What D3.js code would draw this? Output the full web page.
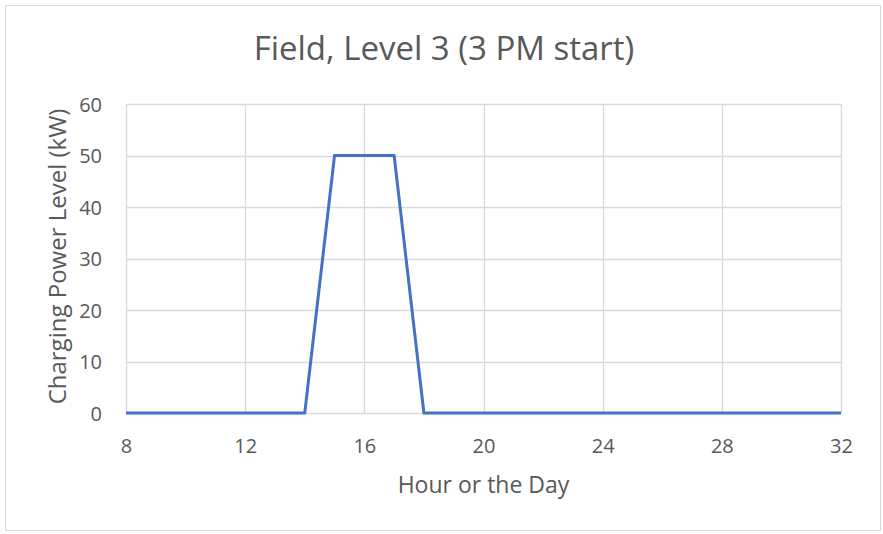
<!DOCTYPE html>
<html>
<head>
<meta charset="utf-8">
<script src="https://cdn.jsdelivr.net/npm/d3@7"></script>
<style>
  html, body { margin: 0; padding: 0; background: #fff; }
  svg text { font-family: "Open Sans", sans-serif; fill: #595959; }
</style>
</head>
<body>
<svg id="chart" width="883" height="534"></svg>
<script>
// Hourly charging power for a Level 3 session starting at 3 PM
const hours = [8, 9, 10, 11, 12, 13, 14, 15, 16, 17, 18, 19, 20, 21, 22, 23, 24, 25, 26, 27, 28, 29, 30, 31, 32];
const powerKW = [0, 0, 0, 0, 0, 0, 0, 50, 50, 50, 0, 0, 0, 0, 0, 0, 0, 0, 0, 0, 0, 0, 0, 0, 0];
const xTicks = [8, 12, 16, 20, 24, 28, 32];
const yTicks = [0, 10, 20, 30, 40, 50, 60];
const titleText = "Field, Level 3 (3 PM start)";
const xTitle = "Hour or the Day";
const yTitle = "Charging Power Level (kW)";

const svg = d3.select("#chart");
const plot = { left: 126, right: 841, top: 104, bottom: 413 };

// Outer chart frame
svg.append("rect")
  .attr("x", 5.5).attr("y", 5.5)
  .attr("width", 875).attr("height", 525)
  .attr("fill", "#fff").attr("stroke", "#d9d9d9").attr("stroke-width", 1);

const x = d3.scaleLinear().domain([8, 32]).range([plot.left, plot.right]);
const y = d3.scaleLinear().domain([0, 60]).range([plot.bottom, plot.top]);

// Gridlines
const grid = svg.append("g").attr("stroke", "#d9d9d9").attr("stroke-width", 1.3);
grid.selectAll(".gx").data(xTicks).enter().append("line")
  .attr("x1", d => Math.round(x(d)) + 0.5).attr("x2", d => Math.round(x(d)) + 0.5)
  .attr("y1", plot.top).attr("y2", plot.bottom);
grid.selectAll(".gy").data(yTicks).enter().append("line")
  .attr("x1", plot.left).attr("x2", plot.right)
  .attr("y1", d => Math.round(y(d)) + 0.5).attr("y2", d => Math.round(y(d)) + 0.5);

// Axes (labels only, no domain lines)
const xAxis = svg.append("g")
  .attr("transform", `translate(0,${plot.bottom})`)
  .call(d3.axisBottom(x).tickValues(xTicks).tickSize(0).tickPadding(0));
const yAxis = svg.append("g")
  .attr("transform", `translate(${plot.left},0)`)
  .call(d3.axisLeft(y).tickValues(yTicks).tickSize(0).tickPadding(24));
[xAxis, yAxis].forEach(a => {
  a.select(".domain").remove();
  a.selectAll("text").style("font-size", "20px").attr("fill", "#595959");
});
xAxis.selectAll("text").attr("dy", null).attr("y", 40);
yAxis.selectAll("text").attr("dy", "0.36em");

// Series line
const line = d3.line().x((d, i) => x(hours[i])).y(d => y(d));
svg.append("path")
  .datum(powerKW)
  .attr("d", line)
  .attr("fill", "none")
  .attr("stroke", "#4472c4")
  .attr("stroke-width", 3)
  .attr("stroke-linejoin", "round");

// Titles
svg.append("text")
  .attr("x", 444).attr("y", 60)
  .attr("text-anchor", "middle")
  .style("font-size", "33px")
  .text(titleText);
svg.append("text")
  .attr("x", (plot.left + plot.right) / 2).attr("y", 493)
  .attr("text-anchor", "middle")
  .style("font-size", "23px")
  .text(xTitle);
svg.append("text")
  .attr("transform", `translate(66,${(plot.top + plot.bottom) / 2 - 2}) rotate(-90)`)
  .attr("text-anchor", "middle")
  .style("font-size", "24px")
  .text(yTitle);
</script>
</body>
</html>
